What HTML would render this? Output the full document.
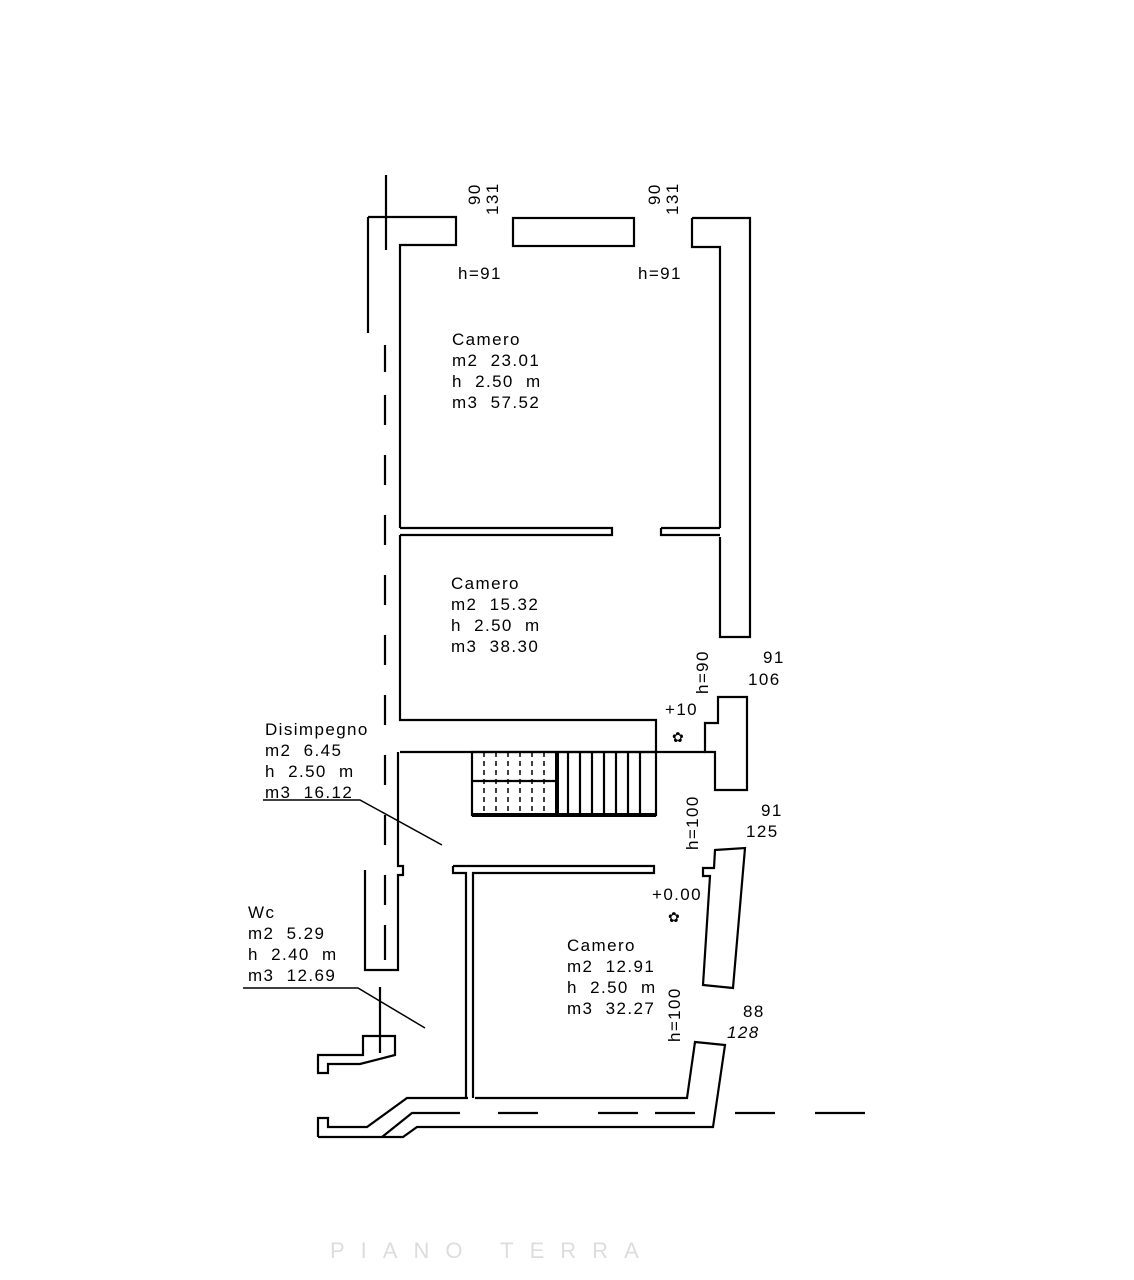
<!DOCTYPE html>
<html><head><meta charset="utf-8"><style>
html,body{margin:0;padding:0;background:#fff;}
svg{display:block}
text{font-family:"Liberation Sans",sans-serif;font-size:17px;fill:#000;letter-spacing:1.4px;white-space:pre}
</style></head><body>
<svg width="1134" height="1280" viewBox="0 0 1134 1280" xmlns="http://www.w3.org/2000/svg">
<g fill="none" stroke="#000" stroke-width="2.2">
<line x1="386" y1="175" x2="386" y2="250"/>
<path d="M385 345V372M385 395V425M385 455V485M385 515V545M385 575V605M385 635V665M385 695V725M385 755V785M385 815V845M385 875V905M385 925V960" />
<line x1="368" y1="217" x2="368" y2="333"/>
<path d="M368 217H456V245H400V528"/>
<rect x="513" y="218" width="121" height="28"/>
<path d="M692 218V247H720V528M692 218H750V637H720V537"/>
<path d="M400 528H612V535H400M661 528H720M661 528V535H720"/>
<path d="M400 535V720H656V752"/>
<path d="M400 752H705"/>
<path d="M718 697H747V790H715V752H705V723H718Z"/>
<rect x="472" y="752" width="184" height="63"/>
<line x1="472" y1="815" x2="656" y2="815" stroke-width="4"/>
<line x1="557" y1="752" x2="557" y2="815" stroke-width="4"/>
<line x1="472" y1="781" x2="557" y2="781"/>
<g stroke-dasharray="5,4" stroke-width="1.5">
<path d="M484 752V815M496 752V815M508 752V815M520 752V815M532 752V815M544 752V815"/>
</g>
<path d="M568 752V815M580 752V815M592 752V815M604 752V815M616 752V815M628 752V815M640 752V815"/>
<path d="M398 752V866H403V875H398V970H365V870"/>
<path d="M453 866H654V873H473V1098M453 866V873H466V1098"/>
<path d="M715 850L745 848L733 988L703 985L710 876H703V868H714Z"/>
<path d="M318 1137H403L417 1127H713L725 1045L695 1042L687 1098H475"/>
<path d="M318 1137V1118H328V1127H367L407 1098H468"/>
<path d="M382 1137L412 1113H460"/>
<path d="M498 1113H538M598 1113H638M655 1113H695M735 1113H775M815 1113H865"/>
<path d="M318 1073V1055H363V1036H395V1055L360 1064H328V1073Z"/>
<line x1="380" y1="987" x2="380" y2="1053"/>
<path d="M263 800H360L442 845" stroke-width="1.5"/>
<path d="M243 988H358L425 1028" stroke-width="1.5"/>
</g>
<text x="672" y="742" style="font-size:14px">✿</text>
<text x="668" y="922" style="font-size:14px">✿</text>
<text transform="translate(480,205) rotate(-90)">90</text>
<text transform="translate(498,215) rotate(-90)">131</text>
<text transform="translate(660,205) rotate(-90)">90</text>
<text transform="translate(678,215) rotate(-90)">131</text>
<text transform="translate(708,694) rotate(-90)">h=90</text>
<text transform="translate(698,850) rotate(-90)">h=100</text>
<text transform="translate(680,1042) rotate(-90)">h=100</text>
<text x="458" y="279">h=91</text>
<text x="638" y="279">h=91</text>
<text x="452" y="345">Camero</text>
<text x="452" y="366">m2  23.01</text>
<text x="452" y="387">h  2.50  m</text>
<text x="452" y="408">m3  57.52</text>
<text x="451" y="589">Camero</text>
<text x="451" y="610">m2  15.32</text>
<text x="451" y="631">h  2.50  m</text>
<text x="451" y="652">m3  38.30</text>
<text x="763" y="663">91</text>
<text x="748" y="685">106</text>
<text x="665" y="715">+10</text>
<text x="265" y="735">Disimpegno</text>
<text x="265" y="756">m2  6.45</text>
<text x="265" y="777">h  2.50  m</text>
<text x="265" y="798">m3  16.12</text>
<text x="761" y="816">91</text>
<text x="746" y="837">125</text>
<text x="652" y="900">+0.00</text>
<text x="248" y="918">Wc</text>
<text x="248" y="939">m2  5.29</text>
<text x="248" y="960">h  2.40  m</text>
<text x="248" y="981">m3  12.69</text>
<text x="567" y="951">Camero</text>
<text x="567" y="972">m2  12.91</text>
<text x="567" y="993">h  2.50  m</text>
<text x="567" y="1014">m3  32.27</text>
<text x="743" y="1017">88</text>
<text x="727" y="1038" font-style="italic">128</text>
<text x="330" y="1258" style="fill:#ddd;font-size:22px;letter-spacing:16px">PIANO TERRA</text>
</svg>
</body></html>
